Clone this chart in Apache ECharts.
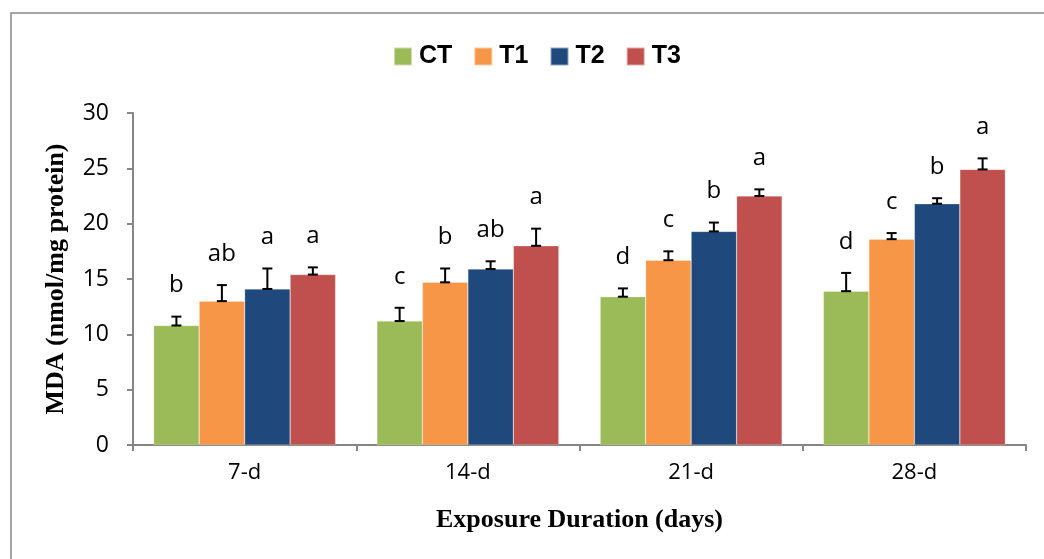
<!DOCTYPE html>
<html>
<head>
<meta charset="utf-8">
<script src="https://cdn.jsdelivr.net/npm/echarts@6/dist/echarts.min.js"></script>
<style>
  html, body { margin: 0; padding: 0; background: #fff; }
  #main { width: 1044px; height: 559px; }
</style>
</head>
<body>
<div id="main"></div>
<script>
// data
var categories = ['7-d', '14-d', '21-d', '28-d'];
var seriesNames = ['CT', 'T1', 'T2', 'T3'];

var ctValues = [10.8, 11.2, 13.4, 13.9];
var t1Values = [13.0, 14.7, 16.7, 18.6];
var t2Values = [14.1, 15.9, 19.3, 21.8];
var t3Values = [15.4, 18.0, 22.5, 24.9];

var ctErr = [0.8, 1.2, 0.75, 1.65];
var t1Err = [1.45, 1.25, 0.8, 0.55];
var t2Err = [1.85, 0.7, 0.8, 0.5];
var t3Err = [0.65, 1.55, 0.6, 1.0];

var ctLetters = ['b', 'c', 'd', 'd'];
var t1Letters = ['ab', 'b', 'c', 'c'];
var t2Letters = ['a', 'ab', 'b', 'b'];
var t3Letters = ['a', 'a', 'a', 'a'];

var yTicks = [0, 5, 10, 15, 20, 25, 30];

var colors = ['#9BBB59', '#F79646', '#1F497D', '#C0504D'];
var allValues = [ctValues, t1Values, t2Values, t3Values];
var allErr = [ctErr, t1Err, t2Err, t3Err];
var allLetters = [ctLetters, t1Letters, t2Letters, t3Letters];

var catGap = 0.185;

// error bar + letter items: [category, series, value, err, letter]
var errData = [];
for (var s = 0; s < 4; s++) {
    for (var c = 0; c < categories.length; c++) {
        errData.push([c, s, allValues[s][c], allErr[s][c], allLetters[s][c]]);
    }
}

var myChart = echarts.init(document.getElementById('main'));

function renderErr(params, api) {
    var c = api.value(0);
    var s = api.value(1);
    var v = api.value(2);
    var e = api.value(3);
    var letter = errData[params.dataIndex][4];
    var band = api.size([1, 0])[0];
    var barW = band * (1 - catGap) / 4;
    var base = api.coord([c, v]);
    var topP = api.coord([c, v + e]);
    var x = base[0] + (s - 1.5) * barW;
    var y0 = base[1];
    var y1 = topP[1];
    var cap = 5;
    var st = { stroke: '#000', lineWidth: 2 };
    return {
        type: 'group',
        children: [
            { type: 'line', shape: { x1: x, y1: y0, x2: x, y2: y1 }, style: st },
            { type: 'line', shape: { x1: x - cap, y1: y1, x2: x + cap, y2: y1 }, style: st },
            { type: 'line', shape: { x1: x - cap, y1: y0, x2: x + cap, y2: y0 }, style: st },
            {
                type: 'text',
                x: x,
                y: y1 - 31,
                style: {
                    text: letter,
                    fill: '#000',
                    font: '24px "Open Sans"',
                    align: 'center',
                    verticalAlign: 'middle'
                }
            }
        ]
    };
}

var series = [];
for (var i = 0; i < 4; i++) {
    series.push({
        name: seriesNames[i],
        type: 'bar',
        barGap: '0%',
        barCategoryGap: (catGap * 100) + '%',
        itemStyle: { color: colors[i], borderColor: 'rgba(255,255,255,0.5)', borderWidth: 0.5 },
        data: allValues[i]
    });
}
series.push({
    type: 'custom',
    renderItem: renderErr,
    data: errData,
    z: 10,
    silent: true
});

var option = {
    animation: false,
    color: colors,
    graphic: [{
        type: 'rect',
        shape: { x: 11, y: 13, width: 1200, height: 700 },
        style: { fill: 'none', stroke: '#888888', lineWidth: 1.5 },
        silent: true
    }],
    legend: {
        left: 393,
        top: 44,
        padding: 0,
        itemWidth: 18,
        itemHeight: 18,
        itemGap: 21,
        icon: 'rect',
        data: seriesNames,
        textStyle: {
            fontFamily: 'Liberation Sans',
            fontWeight: 'bold',
            fontSize: 25,
            color: '#000',
            padding: [0, 0, 0, 2]
        }
    },
    grid: {
        left: 133,
        right: 18,
        top: 113,
        bottom: 114,
        containLabel: false
    },
    xAxis: {
        type: 'category',
        data: categories,
        name: 'Exposure Duration (days)',
        nameLocation: 'middle',
        nameGap: 62,
        nameTextStyle: {
            fontFamily: 'Liberation Serif',
            fontWeight: 'bold',
            fontSize: 26,
            color: '#000'
        },
        axisLine: { lineStyle: { color: '#868686', width: 2 } },
        axisTick: { show: true, length: 6, lineStyle: { color: '#868686', width: 2 } },
        axisLabel: {
            margin: 17,
            fontFamily: 'Open Sans',
            fontSize: 22,
            color: '#000'
        }
    },
    yAxis: {
        type: 'value',
        min: yTicks[0],
        max: yTicks[yTicks.length - 1],
        interval: 5,
        name: 'MDA (nmol/mg protein)',
        nameLocation: 'middle',
        nameGap: 64,
        nameTextStyle: {
            fontFamily: 'Liberation Serif',
            fontWeight: 'bold',
            fontSize: 26,
            color: '#000'
        },
        axisLine: { show: true, lineStyle: { color: '#868686', width: 2 } },
        axisTick: { show: true, length: 6, lineStyle: { color: '#868686', width: 2 } },
        splitLine: { show: false },
        axisLabel: {
            margin: 24,
            fontFamily: 'Open Sans',
            fontSize: 23,
            color: '#000'
        }
    },
    series: series
};

myChart.setOption(option);
</script>
</body>
</html>
